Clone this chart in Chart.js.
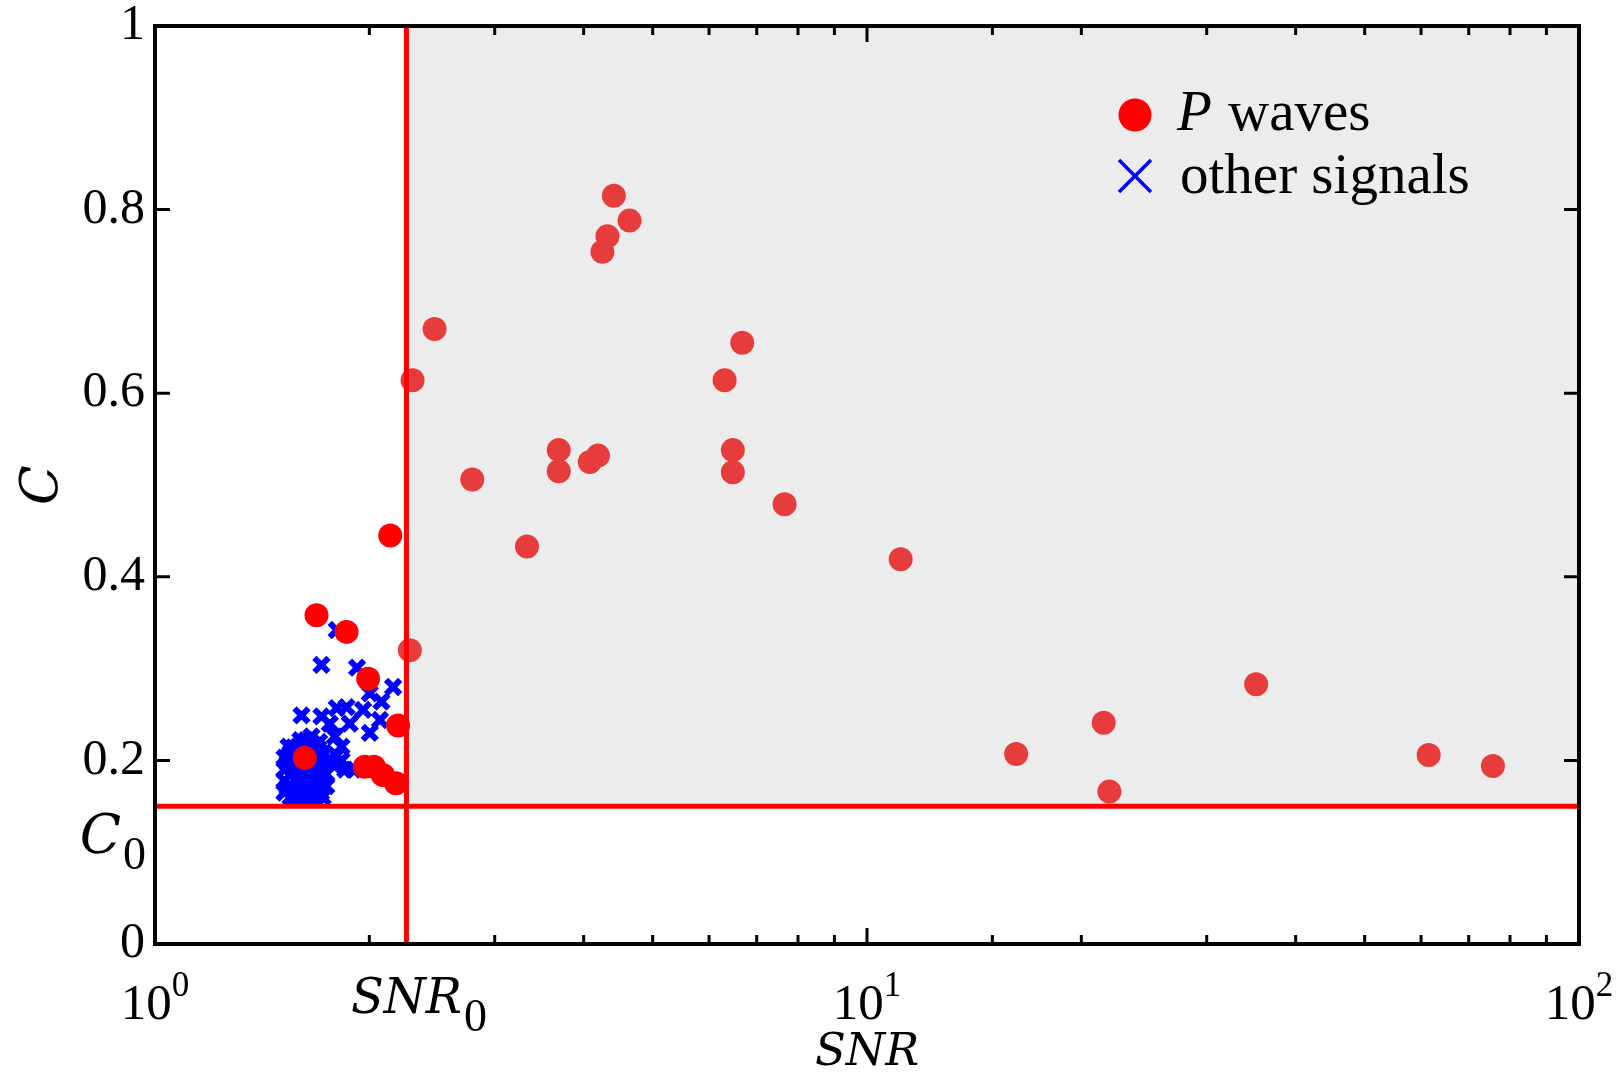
<!DOCTYPE html>
<html>
<head>
<meta charset="utf-8">
<script src="https://cdn.jsdelivr.net/npm/chart.js@4.4.1/dist/chart.umd.min.js"></script>
<style>
  html, body { margin: 0; padding: 0; background: #fff; }
  #wrap { width: 1623px; height: 1072px; position: relative; }
</style>
</head>
<body>
<div id="wrap"><canvas id="chart"></canvas></div>
<script>
// P waves: signal-to-noise ratio and correlation
const pSnr = [4.41, 4.64, 4.32, 4.25, 2.47, 2.30, 6.68, 6.31, 3.69, 3.69,
              4.19, 4.08, 6.48, 6.48, 2.79, 7.66, 3.33, 11.15, 2.14, 1.686,
              1.858, 2.28, 1.992, 2.195, 1.971, 2.03, 2.09, 2.18, 1.623, 35.2,
              21.5, 16.2, 21.9, 61.5, 75.7];
const pC   = [0.815, 0.788, 0.771, 0.754, 0.670, 0.614, 0.655, 0.614, 0.538, 0.515,
              0.532, 0.525, 0.538, 0.514, 0.506, 0.479, 0.433, 0.419, 0.445, 0.358,
              0.340, 0.320, 0.289, 0.238, 0.193, 0.193, 0.184, 0.175, 0.203, 0.283,
              0.241, 0.207, 0.166, 0.206, 0.194];

// other signals
const otherSnr = [1.80, 1.713, 1.922, 2.16, 2.003, 2.08, 1.606, 1.713, 1.80, 1.858,
                  1.96, 2.07, 1.877, 1.76, 2.003, 1.659, 1.789, 1.828, 1.828, 1.898,
                  1.85, 1.80, 1.78, 1.70, 1.63,
                  1.52, 1.52, 1.52, 1.52,
                  1.55, 1.55, 1.55, 1.55, 1.55,
                  1.58, 1.58, 1.58, 1.58, 1.58,
                  1.62, 1.62, 1.62, 1.62,
                  1.65, 1.65, 1.65, 1.65, 1.65,
                  1.68, 1.68, 1.68, 1.68, 1.68,
                  1.71, 1.71, 1.71, 1.71,
                  1.74, 1.74, 1.74,
                  1.535, 1.535, 1.565, 1.565, 1.565, 1.60, 1.60, 1.635, 1.635, 1.635,
                  1.665, 1.665, 1.695, 1.695, 1.695, 1.725, 1.725, 1.60, 1.54, 1.72];
const otherC   = [0.342, 0.304, 0.301, 0.280, 0.273, 0.264, 0.249, 0.248, 0.257, 0.258,
                  0.255, 0.244, 0.240, 0.240, 0.230, 0.226, 0.226, 0.215, 0.200, 0.190,
                  0.190, 0.205, 0.195, 0.220, 0.222,
                  0.165, 0.178, 0.190, 0.203,
                  0.160, 0.172, 0.184, 0.196, 0.208,
                  0.158, 0.168, 0.180, 0.192, 0.213,
                  0.160, 0.172, 0.185, 0.214,
                  0.158, 0.168, 0.180, 0.193, 0.206,
                  0.160, 0.172, 0.184, 0.197, 0.210,
                  0.165, 0.177, 0.190, 0.202,
                  0.172, 0.185, 0.198,
                  0.171, 0.197, 0.166, 0.190, 0.214, 0.174, 0.198, 0.166, 0.196, 0.220,
                  0.174, 0.218, 0.166, 0.190, 0.213, 0.183, 0.208, 0.222, 0.215, 0.160];

// thresholds
const snr0 = 2.255;
const c0 = 0.15;

const yTickLabels = ['0', '0.2', '0.4', '0.6', '0.8', '1'];
const xDecades = [1, 10, 100];
const xDecadeExp = ['0', '1', '2'];

const pPoints = pSnr.map((s, i) => ({ x: s, y: pC[i] }));
const otherPoints = otherSnr.map((s, i) => ({ x: s, y: otherC[i] }));

const serif = 'Liberation Serif, Times New Roman, serif';
const mathSerif = 'DejaVu Serif, serif';

const decor = {
  id: 'decor',
  beforeDatasetsDraw(chart) {
    const { ctx, chartArea: a, scales: { x, y } } = chart;
    const left = x.getPixelForValue(snr0);
    const bottom = y.getPixelForValue(c0);
    ctx.save();
    ctx.fillStyle = '#ececec';
    ctx.fillRect(left, a.top, a.right - left, bottom - a.top);
    ctx.restore();
  },
  afterDatasetsDraw(chart) {
    const { ctx, chartArea: a, scales: { x, y } } = chart;
    const xs = x.getPixelForValue(snr0);
    const yc = y.getPixelForValue(c0);
    ctx.save();

    // threshold lines
    ctx.strokeStyle = '#ff0000';
    ctx.lineWidth = 5;
    ctx.beginPath();
    ctx.moveTo(xs, a.top);
    ctx.lineTo(xs, a.bottom);
    ctx.moveTo(a.left, yc);
    ctx.lineTo(a.right, yc);
    ctx.stroke();

    // box and inward ticks
    ctx.strokeStyle = '#000';
    ctx.lineWidth = 3;
    ctx.beginPath();
    y.ticks.forEach(t => {
      if (t.value <= 0 || t.value >= 1) return;
      const py = y.getPixelForValue(t.value);
      ctx.moveTo(a.left, py); ctx.lineTo(a.left + 15, py);
      ctx.moveTo(a.right, py); ctx.lineTo(a.right - 15, py);
    });
    x.ticks.forEach(t => {
      if (t.value <= 1 || t.value >= 100) return;
      const px = x.getPixelForValue(t.value);
      const len = t.value === 10 ? 16 : 9;
      ctx.moveTo(px, a.bottom); ctx.lineTo(px, a.bottom - len);
      ctx.moveTo(px, a.top); ctx.lineTo(px, a.top + len);
    });
    ctx.stroke();
    ctx.lineWidth = 4;
    ctx.strokeRect(a.left, a.top, a.right - a.left, a.bottom - a.top);

    // decade labels 10^n
    ctx.fillStyle = '#000';
    ctx.textBaseline = 'alphabetic';
    ctx.textAlign = 'left';
    xDecades.forEach((v, i) => {
      const px = x.getPixelForValue(v);
      ctx.font = '51px ' + serif;
      const wb = ctx.measureText('10').width;
      ctx.font = '35px ' + serif;
      const we = ctx.measureText(xDecadeExp[i]).width;
      const x0 = px - (wb + we) / 2;
      ctx.font = '51px ' + serif;
      ctx.fillText('10', x0, a.bottom + 75);
      ctx.font = '35px ' + serif;
      ctx.fillText(xDecadeExp[i], x0 + wb, a.bottom + 52);
    });

    // SNR0 under the vertical threshold
    ctx.font = 'italic 48px ' + mathSerif;
    const ws = ctx.measureText('SNR').width;
    ctx.fillText('SNR', xs - ws / 2, a.bottom + 69);
    ctx.font = '46px ' + serif;
    ctx.fillText('0', xs + ws / 2 + 2, a.bottom + 87);

    // C0 beside the horizontal threshold
    ctx.font = '46px ' + serif;
    const w0 = ctx.measureText('0').width;
    ctx.fillText('0', a.left - 9 - w0, yc + 63);
    ctx.font = 'italic 54px ' + mathSerif;
    const wc = ctx.measureText('C').width;
    ctx.fillText('C', a.left - 11 - w0 - wc, yc + 47);

    // legend
    const lx = a.right - 444;
    ctx.fillStyle = '#ff0000';
    ctx.beginPath();
    ctx.arc(lx, a.top + 89, 16.5, 0, Math.PI * 2);
    ctx.fill();
    ctx.strokeStyle = '#0000ff';
    ctx.lineWidth = 3.5;
    ctx.beginPath();
    const cy = a.top + 150, h = 16;
    ctx.moveTo(lx - h, cy - h); ctx.lineTo(lx + h, cy + h);
    ctx.moveTo(lx - h, cy + h); ctx.lineTo(lx + h, cy - h);
    ctx.stroke();

    ctx.fillStyle = '#000';
    ctx.font = 'italic 57px ' + serif;
    const wp = ctx.measureText('P').width;
    ctx.fillText('P', a.right - 402, a.top + 104);
    ctx.font = '57px ' + serif;
    ctx.fillText(' waves', a.right - 402 + wp + 2, a.top + 104);
    ctx.fillText('other signals', a.right - 399, a.top + 167);

    ctx.restore();
  }
};

Chart.defaults.color = '#000';

new Chart(document.getElementById('chart'), {
  type: 'scatter',
  data: {
    datasets: [
      {
        label: 'P waves',
        data: pPoints,
        pointStyle: 'circle',
        pointRadius: 12,
        pointBorderWidth: 0,
        backgroundColor: ctx => {
          const p = ctx.raw;
          return (p && p.x > snr0 && p.y > c0) ? '#e73c3c' : '#ff0000';
        },
        borderColor: 'rgba(0,0,0,0)'
      },
      {
        label: 'other signals',
        data: otherPoints,
        pointStyle: 'crossRot',
        pointRadius: 10,
        pointBorderWidth: 6,
        borderColor: '#0000ff',
        backgroundColor: '#0000ff'
      }
    ]
  },
  options: {
    responsive: true,
    maintainAspectRatio: false,
    animation: false,
    events: [],
    layout: { padding: { top: 26, right: 44, bottom: 0, left: 0 } },
    plugins: {
      legend: { display: false },
      tooltip: { enabled: false }
    },
    scales: {
      x: {
        type: 'logarithmic',
        min: 1,
        max: 100,
        grid: { display: false, drawTicks: false },
        border: { display: false },
        ticks: { display: false },
        title: {
          display: true,
          text: 'SNR',
          font: { family: mathSerif, style: 'italic', size: 45, lineHeight: 0.6 },
          padding: { top: 0, bottom: 5 }
        },
        afterFit: s => { s.height = 128; }
      },
      y: {
        min: 0,
        max: 1,
        grid: { display: false, drawTicks: false },
        border: { display: false },
        ticks: {
          stepSize: 0.2,
          padding: 10,
          // small line height keeps the top label from pushing the plot down
          font: { family: serif, size: 50, lineHeight: 0.3 },
          callback: v => yTickLabels[Math.round(v * 5)]
        },
        title: {
          display: true,
          text: 'C',
          font: { family: mathSerif, style: 'italic', size: 52, lineHeight: 1 },
          padding: { top: 17, bottom: 0 }
        },
        afterFit: s => { s.width = 155; }
      }
    }
  },
  plugins: [decor]
});
</script>
</body>
</html>
